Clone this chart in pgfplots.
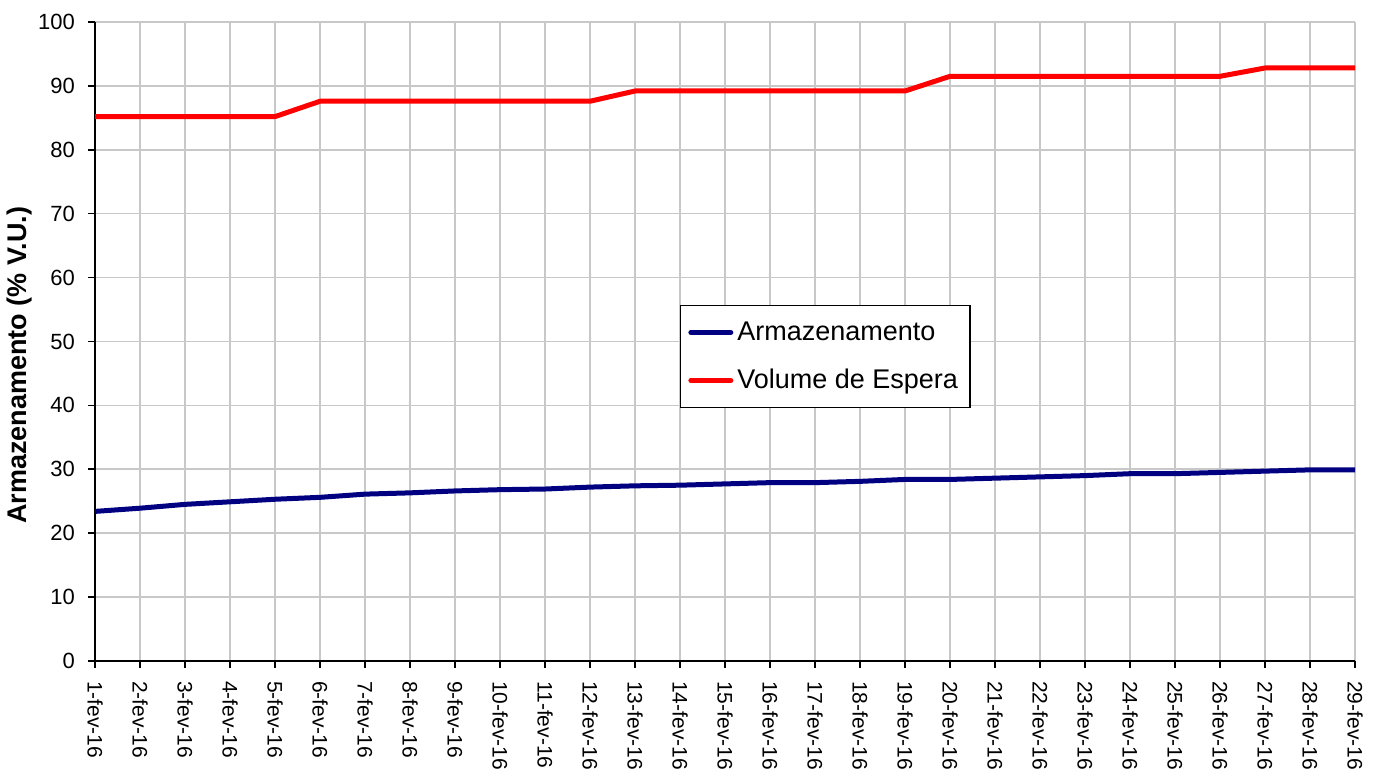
\documentclass[border=0pt]{standalone}
\usepackage{pgfplots}
\pgfplotsset{compat=1.18}
\usepackage{pgfplotstable}
\usepackage{fontspec}
\setmainfont{Liberation Sans}
\definecolor{navyline}{RGB}{0,0,128}
\definecolor{gridgray}{RGB}{200,200,200}
\pgfplotstableread{
x arm vol
1 23.4 85.2
2 23.9 85.2
3 24.5 85.2
4 24.9 85.2
5 25.3 85.2
6 25.6 87.6
7 26.1 87.6
8 26.3 87.6
9 26.6 87.6
10 26.8 87.6
11 26.9 87.6
12 27.2 87.6
13 27.4 89.2
14 27.5 89.2
15 27.7 89.2
16 27.9 89.2
17 27.9 89.2
18 28.1 89.2
19 28.4 89.2
20 28.4 91.5
21 28.6 91.5
22 28.8 91.5
23 29.0 91.5
24 29.3 91.5
25 29.3 91.5
26 29.5 91.5
27 29.7 92.8
28 29.9 92.8
29 29.9 92.8
}\datatable
\begin{document}
\begin{tikzpicture}
\begin{axis}[
  name=ax,
  scale only axis,
  width=630pt, height=319.5pt,
  xmin=1, xmax=29, ymin=0, ymax=100,
  axis lines=left,
  axis line style={-, black, line width=0.8pt},
  xtick={1,...,29},
  xticklabels={1-fev-16,2-fev-16,3-fev-16,4-fev-16,5-fev-16,6-fev-16,7-fev-16,8-fev-16,9-fev-16,10-fev-16,11-fev-16,12-fev-16,13-fev-16,14-fev-16,15-fev-16,16-fev-16,17-fev-16,18-fev-16,19-fev-16,20-fev-16,21-fev-16,22-fev-16,23-fev-16,24-fev-16,25-fev-16,26-fev-16,27-fev-16,28-fev-16,29-fev-16},
  ytick={0,10,...,100},
  tick align=outside,
  major tick length=3.5pt,
  tick style={black, line width=0.8pt},
  grid=major,
  major grid style={gridgray, line width=0.75pt},
  xticklabel style={rotate=-90, anchor=west, font=\fontsize{10.5}{12}\selectfont, inner sep=2pt, xshift=4.5pt},
  yticklabel style={font=\fontsize{11}{13}\selectfont, inner sep=2pt, xshift=-4.5pt},
  /pgf/number format/assume math mode=true,
  ylabel={\bfseries Armazenamento (\% V.U.)},
  ylabel style={at={(axis description cs:-0.0603,0.463)}, anchor=center, font=\fontsize{13.5}{16}\selectfont},
  legend cell align=left,
  legend style={at={(0.464,0.557)}, anchor=north west, draw=black, line width=0.6pt,
    font=\fontsize{13.5}{16}\selectfont, inner xsep=4pt, inner ysep=6pt, row sep=9pt},
  legend image code/.code={\draw[#1, line width=2.5pt, line cap=round] (0pt,0pt) -- (20pt,0pt);},
]
\addplot[navyline, line width=2.5pt, line join=round] table[x=x, y=arm] {\datatable};
\addlegendentry{Armazenamento}
\addplot[red, line width=2.5pt, line join=round] table[x=x, y=vol] {\datatable};
\addlegendentry{Volume de Espera}
\end{axis}
\path (ax.south west) ++(-47.5pt,0pt) coordinate (bl);
\path (ax.north east) ++(15.5pt,11pt) coordinate (tr);
\path (bl) -- (tr);
\end{tikzpicture}
\end{document}
